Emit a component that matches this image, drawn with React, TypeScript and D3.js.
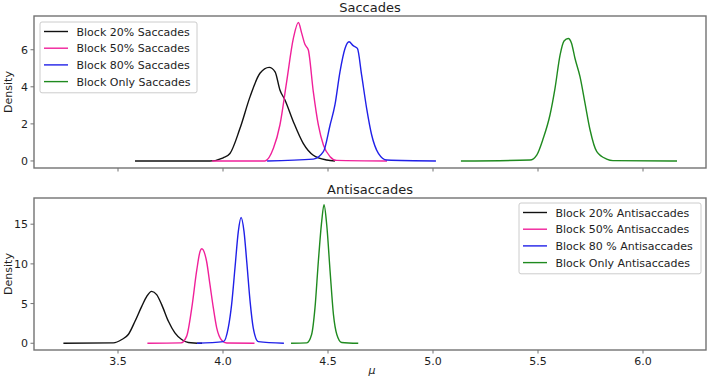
import React from "react";
import * as d3 from "d3";

// ---- Data ----
const sacLabels = ["Block 20% Saccades", "Block 50% Saccades", "Block 80% Saccades", "Block Only Saccades"];
const antiLabels = ["Block 20% Antisaccades", "Block 50% Antisaccades", "Block 80 % Antisaccades", "Block Only Antisaccades"];
const colors = ["#111111", "#f0209a", "#2020e8", "#1f8a1f"];

const sac20X = [3.581, 3.938, 4.001, 4.033, 4.081, 4.129, 4.176, 4.220, 4.248, 4.271, 4.295, 4.335, 4.382, 4.430, 4.494, 4.533];
const sac20Y = [0, 0.0, 0.17, 0.4, 1.76, 3.47, 4.73, 5.05, 4.81, 3.83, 3.29, 2.12, 0.95, 0.31, 0.05, 0];
const sac50X = [3.948, 4.200, 4.240, 4.271, 4.303, 4.335, 4.359, 4.375, 4.390, 4.406, 4.430, 4.454, 4.478, 4.510, 4.541, 4.781];
const sac50Y = [0, 0.0, 0.68, 1.94, 4.27, 6.61, 7.47, 6.88, 6.29, 6.0, 3.74, 1.94, 0.86, 0.23, 0.03, 0];
const sac80X = [4.21, 4.430, 4.478, 4.510, 4.533, 4.557, 4.581, 4.600, 4.620, 4.640, 4.660, 4.684, 4.708, 4.740, 4.780, 5.014];
const sac80Y = [0, 0.1, 0.5, 1.94, 3.02, 4.81, 6.07, 6.43, 6.22, 6.07, 4.64, 2.84, 1.40, 0.41, 0.05, 0];
const sacOnlyX = [5.133, 5.462, 5.494, 5.525, 5.557, 5.581, 5.605, 5.624, 5.644, 5.660, 5.676, 5.700, 5.724, 5.748, 5.780, 5.827, 5.857, 6.162];
const sacOnlyY = [0, 0.05, 0.32, 1.22, 2.48, 3.92, 5.71, 6.47, 6.61, 6.34, 5.54, 4.55, 3.11, 1.67, 0.5, 0.1, 0.02, 0];

const anti20X = [3.240, 3.478, 3.518, 3.549, 3.581, 3.613, 3.637, 3.660, 3.684, 3.708, 3.740, 3.771, 3.803, 3.835, 3.90];
const anti20Y = [0, 0.05, 0.47, 1.1, 2.77, 4.65, 5.91, 6.54, 6.13, 4.87, 2.77, 1.31, 0.47, 0.1, 0];
const anti50X = [3.64, 3.80, 3.827, 3.851, 3.875, 3.891, 3.899, 3.914, 3.922, 3.938, 3.954, 3.970, 3.994, 4.018, 4.15];
const anti50Y = [0, 0.05, 0.9, 4.4, 9.2, 11.6, 11.9, 11.2, 10.3, 7.38, 4.45, 1.94, 0.38, 0.03, 0];
const anti80X = [3.876, 4.002, 4.025, 4.041, 4.057, 4.073, 4.086, 4.100, 4.113, 4.129, 4.144, 4.168, 4.29];
const anti80Y = [0, 0.2, 1.94, 4.87, 9.48, 14.1, 15.85, 14.1, 10.3, 5.28, 1.94, 0.2, 0];
const antiOnlyX = [4.324, 4.399, 4.422, 4.438, 4.454, 4.470, 4.481, 4.494, 4.510, 4.526, 4.542, 4.565, 4.644];
const antiOnlyY = [0, 0.05, 1.1, 4.45, 10.3, 15.35, 17.45, 14.9, 9.06, 3.6, 1.1, 0.1, 0];

const xTicks = [3.5, 4.0, 4.5, 5.0, 5.5, 6.0];
const sacYTicks = [0, 2, 4, 6];
const antiYTicks = [0, 5, 10, 15];

const FONT = "DejaVu Sans, sans-serif";
const TXT = "#1e1e1e";
const FRAME = "#737373";

type Series = { x: number[]; y: number[] };

function Panel(props: {
  top: number; bottom: number; yDomain: [number, number]; yTicks: number[];
  series: Series[]; labels: string[]; title: string; showXLabels: boolean;
  legend: { x: number; y: number; w: number };
  x: d3.ScaleLinear<number, number>;
}) {
  const { top, bottom, yDomain, yTicks, series, labels, title, showXLabels, legend, x } = props;
  const y = d3.scaleLinear().domain(yDomain).range([bottom, top]);
  const left = x.range()[0];
  const right = x.range()[1];
  const line = d3.line<[number, number]>().x(d => x(d[0])).y(d => y(d[1])).curve(d3.curveMonotoneX);
  const clipId = "clip" + top;
  const rowH = 16.7;
  return (
    <g>
      <defs>
        <clipPath id={clipId}><rect x={left} y={top} width={right - left} height={bottom - top} /></clipPath>
      </defs>
      <text x={(left + right) / 2} y={top - 4.5} textAnchor="middle" fontSize={13} fontFamily={FONT} fill={TXT}>{title}</text>
      <g clipPath={`url(#${clipId})`}>
        {series.map((s, i) => (
          <path key={i} d={line(s.x.map((v, j) => [v, s.y[j]] as [number, number])) || ""} fill="none" stroke={colors[i]} strokeWidth={1.4} />
        ))}
      </g>
      <rect x={left} y={top} width={right - left} height={bottom - top} fill="none" stroke={FRAME} strokeWidth={1.4} />
      {xTicks.map(t => (
        <g key={t}>
          <line x1={x(t)} x2={x(t)} y1={bottom} y2={bottom + 3.5} stroke={FRAME} strokeWidth={1} />
          {showXLabels && (
            <text x={x(t)} y={bottom + 15} textAnchor="middle" fontSize={11} fontFamily={FONT} fill={TXT}>{t.toFixed(1)}</text>
          )}
        </g>
      ))}
      {yTicks.map(t => (
        <g key={t}>
          <line x1={left - 3.5} x2={left} y1={y(t)} y2={y(t)} stroke={FRAME} strokeWidth={1} />
          <text x={left - 6} y={y(t) + 4} textAnchor="end" fontSize={11} fontFamily={FONT} fill={TXT}>{t}</text>
        </g>
      ))}
      <text transform={`translate(${12},${(top + bottom) / 2}) rotate(-90)`} textAnchor="middle" fontSize={11} fontFamily={FONT} fill={TXT}>Density</text>
      <g>
        <rect x={legend.x} y={legend.y} width={legend.w} height={rowH * 4 + 4} rx={2} fill="white" fillOpacity={0.85} stroke="#cccccc" strokeWidth={1} />
        {labels.map((l, i) => {
          const cy = legend.y + 9.5 + i * rowH;
          return (
            <g key={l}>
              <line x1={legend.x + 4} x2={legend.x + 28} y1={cy} y2={cy} stroke={colors[i]} strokeWidth={1.4} />
              <text x={legend.x + 36.5} y={cy + 4} fontSize={11} fontFamily={FONT} fill={TXT}>{l}</text>
            </g>
          );
        })}
      </g>
    </g>
  );
}

export default function App() {
  const x = d3.scaleLinear().domain([3.1, 6.3]).range([34, 706]);
  const sacSeries: Series[] = [
    { x: sac20X, y: sac20Y }, { x: sac50X, y: sac50Y }, { x: sac80X, y: sac80Y }, { x: sacOnlyX, y: sacOnlyY },
  ];
  const antiSeries: Series[] = [
    { x: anti20X, y: anti20Y }, { x: anti50X, y: anti50Y }, { x: anti80X, y: anti80Y }, { x: antiOnlyX, y: antiOnlyY },
  ];
  return (
    <svg width={709} height={382} style={{ position: "absolute", left: 0, top: 0, background: "white" }}>
      <rect width={709} height={382} fill="white" />
      <Panel top={16} bottom={168} yDomain={[-0.38, 7.82]} yTicks={sacYTicks} series={sacSeries} labels={sacLabels}
        title="Saccades" showXLabels={false} legend={{ x: 40, y: 22, w: 157 }} x={x} />
      <Panel top={198} bottom={350} yDomain={[-0.85, 18.3]} yTicks={antiYTicks} series={antiSeries} labels={antiLabels}
        title="Antisaccades" showXLabels={true} legend={{ x: 519, y: 203, w: 182 }} x={x} />
      <text x={x(4.71)} y={374} textAnchor="middle" fontSize={11} fontStyle="italic" fontFamily={FONT} fill={TXT}>μ</text>
    </svg>
  );
}
